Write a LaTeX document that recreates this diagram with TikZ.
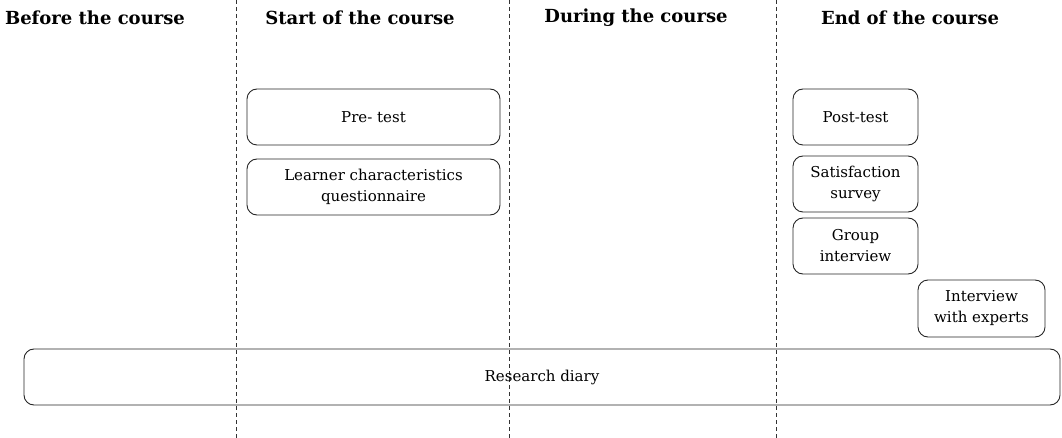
\documentclass[tikz,border=0pt]{standalone}
\usepackage{fontspec}
\setmainfont{DejaVu Serif}
\begin{document}
\begin{tikzpicture}[x=1pt,y=-1pt,
  phase/.style={font=\bfseries\fontsize{18}{21}\selectfont, inner sep=0pt},
  instr/.style={draw=black!85, line width=0.9pt, rounded corners=10pt,
    align=center, inner sep=2pt, font=\fontsize{15}{21}\selectfont},
  divider/.style={draw=black!80, line width=0.7pt, dash pattern=on 4pt off 3pt}]
\useasboundingbox (0,0) rectangle (1062,438);

% phase dividers
\coordinate (d1t) at (236,0);  \coordinate (d1b) at (236,438);
\coordinate (d2t) at (509,0);  \coordinate (d2b) at (509,438);
\coordinate (d3t) at (776,0);  \coordinate (d3b) at (776,438);
\draw[divider] (d1t) -- (d1b);
\draw[divider] (d2t) -- (d2b);
\draw[divider] (d3t) -- (d3b);

% phase headings
\node[phase] (before) at (95,18) {Before the course};
\node[phase] (start)  at (360,18) {Start of the course};
\node[phase] (during) at (636,18) {During the course};
\node[phase] (end)    at (910,18) {End of the course};

% instruments
\node[instr, minimum width=253pt, minimum height=56pt] (pretest) at (373.5,117) {Pre- test};
\node[instr, minimum width=253pt, minimum height=56pt] (learner) at (373.5,187) {Learner characteristics\\questionnaire};
\node[instr, minimum width=125pt, minimum height=56pt] (posttest) at (855.5,117) {Post-test};
\node[instr, minimum width=125pt, minimum height=56pt] (satisf) at (855.5,184) {Satisfaction\\survey};
\node[instr, minimum width=125pt, minimum height=56pt] (group) at (855.5,246) {Group\\interview};
\node[instr, minimum width=127pt, minimum height=57pt] (experts) at (981.5,308.5) {Interview\\with experts};
\node[instr, minimum width=1036pt, minimum height=56pt] (diary) at (542,377) {Research diary};
\end{tikzpicture}
\end{document}
